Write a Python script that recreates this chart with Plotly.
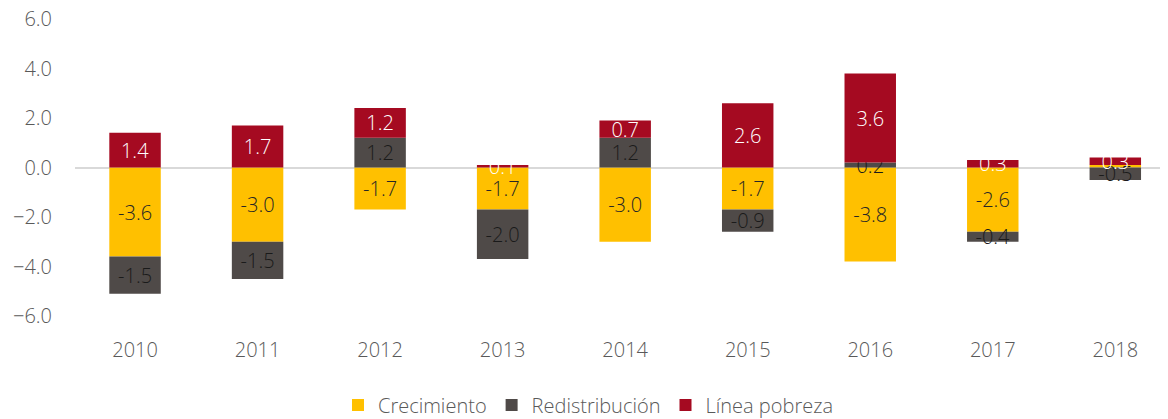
import plotly.graph_objects as go

years = ["2010", "2011", "2012", "2013", "2014", "2015", "2016", "2017", "2018"]
crecimiento = [-3.6, -3.0, -1.7, -1.7, -3.0, -1.7, -3.8, -2.6, 0.1]
redistribucion = [-1.5, -1.5, 1.2, -2.0, 1.2, -0.9, 0.2, -0.4, -0.5]
linea_pobreza = [1.4, 1.7, 1.2, 0.1, 0.7, 2.6, 3.6, 0.3, 0.3]
y_ticks = [-6, -4, -2, 0, 2, 4, 6]

FONT = "Open Sans"
series = [
    ("Crecimiento", crecimiento, "#FFC000", "#262626"),
    ("Redistribución", redistribucion, "#4F4A48", "#1a1a1a"),
    ("Línea pobreza", linea_pobreza, "#A50A21", "#FFFFFF"),
]

fig = go.Figure()
for name, vals, color, tcolor in series:
    texts = [f"{v:.1f}" for v in vals]
    if name == "Crecimiento":
        # the tiny 2018 growth label is not shown in the reference
        texts = [t if v < 0 else "" for t, v in zip(texts, vals)]
    fig.add_trace(go.Bar(
        name=name, x=years, y=vals, text=texts,
        textposition="inside", insidetextanchor="middle", textangle=0,
        constraintext="none", cliponaxis=False,
        textfont=dict(family=FONT, size=20, color=tcolor, weight=300),
        marker=dict(color=color, line=dict(width=0)),
        width=0.42, hoverinfo="skip",
    ))

# the page body has an 8px margin, so the figure is sized/offset to compensate
fig.update_layout(
    barmode="relative",
    width=1160, height=411,
    margin=dict(l=67, r=0, t=11, b=103, autoexpand=False),
    paper_bgcolor="white", plot_bgcolor="white",
    font=dict(family=FONT, size=20, color="#595959", weight=300),
    showlegend=True,
    legend=dict(orientation="h", xref="container", yref="paper",
                x=0.5, xanchor="center", y=-0.30, yanchor="middle",
                font=dict(size=20, color="#595959", family=FONT, weight=300),
                itemsizing="constant", traceorder="normal", itemwidth=30),
    uniformtext=dict(mode=False),
)
fig.update_xaxes(range=[-0.49, 8.43], showgrid=False, showline=False,
                 ticks="", ticklabelstandoff=20,
                 tickfont=dict(family=FONT, size=20, color="#595959"))
fig.update_yaxes(range=[-6, 6], tickvals=y_ticks, tickformat=".1f",
                 showgrid=False, showline=False, ticks="",
                 zeroline=True, zerolinecolor="#D9D9D9", zerolinewidth=2,
                 ticklabelstandoff=22, ticklabeloverflow="allow",
                 tickfont=dict(family=FONT, size=20, color="#595959"))

fig.write_html("out.html")
